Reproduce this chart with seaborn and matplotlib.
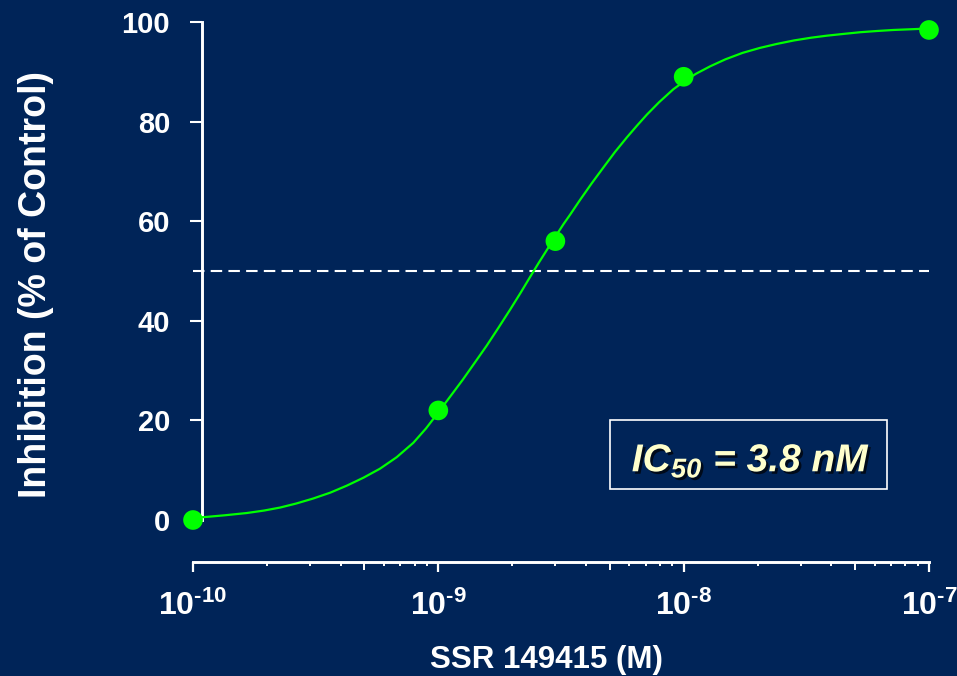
import numpy as np
import pandas as pd
import matplotlib
matplotlib.use("Agg")
import matplotlib.pyplot as plt
import matplotlib.patches as mpatches
import matplotlib.patheffects as pe
from matplotlib.ticker import FixedLocator, FixedFormatter, NullFormatter
import seaborn as sns

# ---------------- data ----------------
point_conc = [1e-10, 1e-9, 3e-9, 1e-8, 1e-7]
point_inhib = [0.0, 22.0, 56.0, 89.0, 98.4]

# fitted curve (log10 of molar concentration, % inhibition)
curve_log_conc = [-10.0, -9.95, -9.87, -9.781, -9.71, -9.645, -9.58, -9.511,
                  -9.44, -9.373, -9.305, -9.238, -9.17, -9.102, -9.05, -9.0,
                  -8.95, -8.90, -8.85, -8.803, -8.755, -8.708, -8.665, -8.626,
                  -8.59, -8.558, -8.523, -8.49, -8.463, -8.422, -8.375, -8.327,
                  -8.28, -8.232, -8.19, -8.15, -8.10, -8.042, -8.0, -7.95,
                  -7.892, -7.83, -7.76, -7.689, -7.62, -7.55, -7.48, -7.417,
                  -7.35, -7.28, -7.21, -7.145, -7.07, -7.0]
curve_inhib = [0.45, 0.6, 0.95, 1.4, 1.9, 2.5, 3.3, 4.3,
               5.5, 6.9, 8.5, 10.3, 12.6, 15.5, 18.4, 21.6,
               24.9, 28.2, 31.7, 35.0, 38.6, 42.2, 45.6, 48.8,
               51.7, 54.2, 56.9, 59.4, 61.3, 64.3, 67.6, 70.8,
               73.9, 76.8, 79.2, 81.4, 83.9, 86.5, 88.0, 89.6,
               91.1, 92.5, 93.8, 94.8, 95.6, 96.3, 96.85, 97.25,
               97.6, 97.95, 98.2, 98.4, 98.55, 98.7]

x_major = [1e-10, 1e-9, 1e-8, 1e-7]
x_major_labels = [r"$\mathdefault{10^{\text{-}10}}$", r"$\mathdefault{10^{\text{-}9}}$",
                  r"$\mathdefault{10^{\text{-}8}}$", r"$\mathdefault{10^{\text{-}7}}$"]
x_minor_mult = [2, 3, 4, 5, 6, 7, 8, 9]
y_ticks = [0, 20, 40, 60, 80, 100]

x_label = "SSR 149415 (M)"
y_label = "Inhibition (% of Control)"
ic50_text = r"$\mathdefault{IC_{50}}$ = 3.8 nM"

# ---------------- style ----------------
BG = "#002458"
GREEN = "#00FF00"
sns.set_style("white")
plt.rcParams["font.family"] = ["Liberation Sans", "DejaVu Sans"]
plt.rcParams["font.weight"] = "bold"
plt.rcParams["mathtext.fontset"] = "custom"
plt.rcParams["mathtext.rm"] = "Liberation Sans:bold"
plt.rcParams["mathtext.it"] = "Liberation Sans:italic:bold"
plt.rcParams["mathtext.bf"] = "Liberation Sans:bold"

W, H = 957, 676
fig = plt.figure(figsize=(W / 100, H / 100), dpi=100, facecolor=BG)
ax = fig.add_axes([193 / W, 1 - 520 / H, 736 / W, 498 / H])
ax.set_facecolor(BG)
ax.set_xscale("log")
ax.set_xlim(1e-10, 1e-7)
ax.set_ylim(0, 100)

# dashed 50 % line
ax.hlines(50, 1e-10, 1e-7, colors="white", linestyles=(0, (5.5, 3)),
          lw=1.5, clip_on=False, zorder=2)

curve_df = pd.DataFrame({"conc": 10.0 ** np.array(curve_log_conc),
                         "inhib": curve_inhib})
pts_df = pd.DataFrame({"conc": point_conc, "inhib": point_inhib})

sns.lineplot(data=curve_df, x="conc", y="inhib", color=GREEN, lw=1.6,
             ax=ax, zorder=3, clip_on=False, sort=False)
sns.scatterplot(data=pts_df, x="conc", y="inhib", color=GREEN, s=200,
                edgecolor="none", linewidth=0, ax=ax, zorder=4, clip_on=False)

# spines
for s in ["top", "right"]:
    ax.spines[s].set_visible(False)
ax.spines["left"].set_position(("data", 1.088e-10))
ax.spines["left"].set_bounds(0, 100)
ax.spines["bottom"].set_position(("outward", 30.2))
for s in ["left", "bottom"]:
    ax.spines[s].set_color("white")
    ax.spines[s].set_linewidth(2.1)
    ax.spines[s].set_zorder(2.5)

# ticks
ax.set_yticks(y_ticks)
ax.set_yticklabels([str(v) for v in y_ticks])
ax.tick_params(axis="y", which="major", left=True, direction="out", length=9,
               width=1.5, color="white", labelcolor="white", labelsize=21,
               pad=14)

ax.xaxis.set_major_locator(FixedLocator(x_major))
ax.xaxis.set_major_formatter(FixedFormatter(x_major_labels))
minor_locs = [m * d for d in x_major[:-1] for m in x_minor_mult]
ax.xaxis.set_minor_locator(FixedLocator(minor_locs))
ax.xaxis.set_minor_formatter(NullFormatter())
ax.tick_params(axis="x", which="major", bottom=True, direction="out",
               length=7.5, width=1.6, color="white", labelcolor="white",
               labelsize=23, pad=13)
ax.tick_params(axis="x", which="minor", bottom=True, direction="out",
               length=3, width=1.4, color="white")
for lab in ax.get_xticklabels() + ax.get_yticklabels():
    lab.set_fontweight("bold")

ax.set_xlabel("")
ax.set_ylabel("")

fig.canvas.draw()
minor_ticks = ax.xaxis.get_minor_ticks(len(minor_locs))
for t, loc in zip(minor_ticks, minor_locs):
    mult = round(loc / 10 ** np.floor(np.log10(loc) + 1e-9))
    if mult == 5:
        t.tick1line.set_markersize(6)

# axis titles
fig.text(546 / W, 1 - 660 / H, x_label, color="white", fontsize=22.5,
         fontweight="bold", ha="center", va="center")
fig.text(36 / W, 1 - 285 / H, y_label, color="white", fontsize=27,
         fontweight="bold", ha="center", va="center", rotation=90)

# IC50 box
rect = mpatches.Rectangle((610 / W, 1 - 489 / H), 277 / W, 69 / H,
                          transform=fig.transFigure, fill=False,
                          edgecolor="white", lw=1.2)
fig.add_artist(rect)
fig.text(751 / W, 1 - 461 / H, ic50_text, color="#FFFFCC", fontsize=28,
         fontweight="bold", fontstyle="italic", ha="center", va="center",
         path_effects=[pe.withSimplePatchShadow(offset=(1.8, -1.8),
                                                shadow_rgbFace="black",
                                                alpha=0.7)])

fig.savefig("out.png", dpi=100, facecolor=BG)
